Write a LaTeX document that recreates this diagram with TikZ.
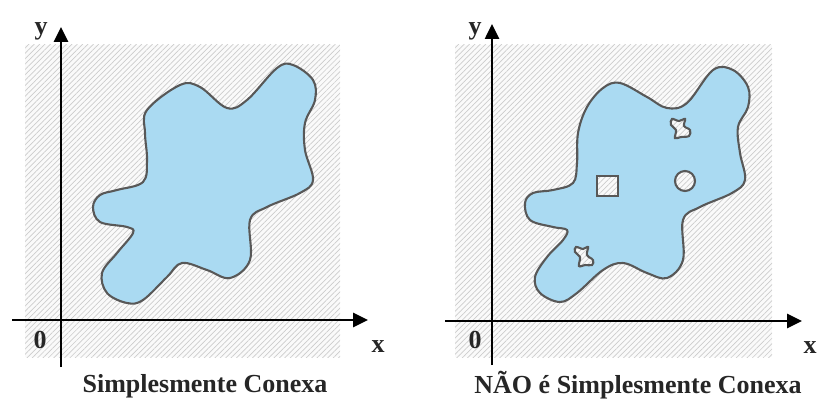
\documentclass[tikz,border=0pt]{standalone}
\usepackage{fontspec}
\setmainfont{Liberation Serif}
\usetikzlibrary{arrows.meta,patterns.meta}

\definecolor{azulregiao}{RGB}{170,218,242}
\definecolor{contorno}{RGB}{88,88,88}

\tikzset{
  hachura/.style={pattern={Lines[angle=45,distance=3.8pt,line width=0.7pt]},pattern color=gray!40},
  eixo/.style={line width=2.6pt,black,-{Triangle[length=15pt,width=14pt]}},
  regiao/.style={fill=azulregiao,even odd rule},
  borda/.style={contorno,line width=2.1pt},
  rotulo/.style={font=\bfseries\fontsize{26}{30}\selectfont,text=black!85,inner sep=0pt},
}

\begin{document}
\begin{tikzpicture}[x=1pt,y=-1pt]
\useasboundingbox (0,0) rectangle (826,417);
% regioes hachuradas
\fill[gray!4] (25,45) rectangle (340,357);
\fill[hachura] (25,45) rectangle (340,357);
\fill[gray!4] (455,45) rectangle (772,357);
\fill[hachura] (455,45) rectangle (772,357);
% regiao simplesmente conexa
\fill[regiao] plot[smooth cycle,tension=0.6] coordinates {(147,110) (180,85) (200,87) (227,108) (247,100) (277,68) (293,65) (313,80) (315,100) (305,123) (305,150) (313,180) (300,193) (267,207) (250,220) (250,260) (230,278) (207,270) (182,263) (167,277) (143,300) (127,303) (107,293) (102,273) (117,253) (133,233) (127,227) (100,222) (93,207) (100,195) (117,190) (143,182) (147,160) (145,133)};
\draw[borda] plot[smooth cycle,tension=0.6] coordinates {(147,110) (180,85) (200,87) (227,108) (247,100) (277,68) (293,65) (313,80) (315,100) (305,123) (305,150) (313,180) (300,193) (267,207) (250,220) (250,260) (230,278) (207,270) (182,263) (167,277) (143,300) (127,303) (107,293) (102,273) (117,253) (133,233) (127,227) (100,222) (93,207) (100,195) (117,190) (143,182) (147,160) (145,133)};
% regiao com buracos
\fill[regiao] plot[smooth cycle,tension=0.6] coordinates {(578,133) (587,107) (603,88) (620,83) (647,97) (667,108) (687,103) (713,70) (733,70) (748,87) (748,107) (738,127) (740,153) (745,180) (732,193) (700,207) (683,220) (683,260) (667,278) (647,273) (623,263) (603,270) (577,293) (560,302) (540,293) (535,277) (547,257) (563,240) (567,230) (553,227) (530,220) (525,203) (533,193) (553,190) (573,183) (577,163)}
  (597,176) rectangle (618,196)
  (685,181) circle[radius=10]
  plot[smooth cycle,tension=0.6] coordinates {(672,119) (679,121) (685,119) (684,126) (690,130) (689,136) (681,137) (675,138) (676,130) (671,125)}
  plot[smooth cycle,tension=0.6] coordinates {(576,247) (583,249) (588,247) (587,255) (593,260) (592,265) (585,265) (579,266) (580,257) (575,252)};
\draw[borda] plot[smooth cycle,tension=0.6] coordinates {(578,133) (587,107) (603,88) (620,83) (647,97) (667,108) (687,103) (713,70) (733,70) (748,87) (748,107) (738,127) (740,153) (745,180) (732,193) (700,207) (683,220) (683,260) (667,278) (647,273) (623,263) (603,270) (577,293) (560,302) (540,293) (535,277) (547,257) (563,240) (567,230) (553,227) (530,220) (525,203) (533,193) (553,190) (573,183) (577,163)};
\draw[borda] (597,176) rectangle (618,196);
\draw[borda] (685,181) circle[radius=10];
\draw[borda] plot[smooth cycle,tension=0.6] coordinates {(672,119) (679,121) (685,119) (684,126) (690,130) (689,136) (681,137) (675,138) (676,130) (671,125)};
\draw[borda] plot[smooth cycle,tension=0.6] coordinates {(576,247) (583,249) (588,247) (587,255) (593,260) (592,265) (585,265) (579,266) (580,257) (575,252)};
% eixos
\coordinate (xiniA) at (12,320);
\coordinate (xfimA) at (368,320);
\coordinate (yiniA) at (61,367);
\coordinate (yfimA) at (61,27);
\coordinate (xiniB) at (445,321);
\coordinate (xfimB) at (802,321);
\coordinate (yiniB) at (492,365);
\coordinate (yfimB) at (492,24);
\draw[eixo] (xiniA)--(xfimA);
\draw[eixo] (yiniA)--(yfimA);
\draw[eixo] (xiniB)--(xfimB);
\draw[eixo] (yiniB)--(yfimB);
\node[rotulo,anchor=base] (yA) at (41,35) {y};
\node[rotulo,anchor=base] (xA) at (378,352) {x};
\node[rotulo,anchor=base] (zA) at (40,348) {0};
\node[rotulo,anchor=base] (yB) at (475,35) {y};
\node[rotulo,anchor=base] (xB) at (810,353) {x};
\node[rotulo,anchor=base] (zB) at (475,348) {0};
\node[rotulo,anchor=base] (legA) at (205,392) {Simplesmente Conexa};
\node[rotulo,anchor=base] (legB) at (638,393) {NÃO é Simplesmente Conexa};
\end{tikzpicture}
\end{document}
